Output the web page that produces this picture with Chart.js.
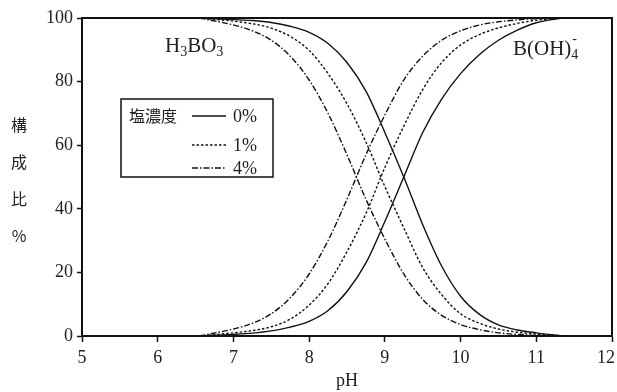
<!DOCTYPE html>
<html>
<head>
<meta charset="utf-8">
<script src="https://cdn.jsdelivr.net/npm/chart.js@4"></script>
<style>
  body { margin: 0; background: #fff; }
  #wrap { width: 617px; height: 392px; }
</style>
</head>
<body>
<div id="wrap"><canvas id="chart" width="617" height="392"></canvas></div>
<script>
let pH = [6.55, 7, 7.25, 7.5, 7.75, 8, 8.25, 8.5, 8.75, 9, 9.25, 9.5, 9.75, 10, 10.25, 10.5, 10.75, 11, 11.35];

// H3BO3 (falling) curves, %
let boric0 = [100, 99.5, 99.2, 98.6, 97.4, 95.5, 92, 86, 77, 64, 50, 35, 22, 12.5, 6.8, 3.5, 1.9, 1, 0];
let boric1 = [100, 99, 98.2, 96.8, 94.2, 89.8, 82.5, 73, 61, 47, 34, 21.5, 13, 7, 4, 2.2, 1.2, 0.6, 0];
let boric4 = [100, 97.8, 96, 93, 88, 80.5, 70, 57, 43, 30.5, 19.5, 11.5, 6.5, 3.6, 2, 1, 0.5, 0.2, 0];

// B(OH)4- (rising) curves, %
let borate0 = [0, 0.5, 0.9, 1.6, 2.8, 4.6, 8, 14, 23, 36, 50, 64, 74.5, 82.5, 88.5, 93, 96.2, 98.5, 100];
let borate1 = [0, 1, 1.7, 2.9, 5.3, 9.7, 16.5, 26.5, 38.5, 53, 66, 77.5, 86, 91.5, 94.8, 96.9, 98.3, 99.3, 100];
let borate4 = [0, 2.2, 4, 7, 12, 19.5, 30, 43, 57, 69.5, 80.5, 88, 93, 96, 97.8, 98.8, 99.4, 99.8, 100];

let xTicks = [5, 6, 7, 8, 9, 10, 11, 12];
let yTicks = [0, 20, 40, 60, 80, 100];
let saltLabels = ["0%", "1%", "4%"];
let yTitle = ["構", "成", "比", "%"];

let dashes = [[], [2.5, 2], [6, 2, 1.5, 2]];
let serif = "'Liberation Serif', 'DejaVu Serif', serif";
let cjk = "'Noto Sans CJK JP', 'Noto Sans CJK SC', sans-serif";

function toPoints(values) {
    return values.map((v, i) => ({x: pH[i], y: v}));
}

function makeSet(values, dash) {
    return {
        data: toPoints(values),
        borderColor: "#111",
        borderWidth: 1.4,
        borderDash: dash,
        pointRadius: 0,
        cubicInterpolationMode: "monotone",
        fill: false
    };
}

let datasets = [
    makeSet(boric0, dashes[0]),
    makeSet(boric1, dashes[1]),
    makeSet(boric4, dashes[2]),
    makeSet(borate0, dashes[0]),
    makeSet(borate1, dashes[1]),
    makeSet(borate4, dashes[2])
];

// frame, x labels, species names, legend box and stacked y title
let extras = {
    id: "extras",
    afterDraw(chart) {
        let ctx = chart.ctx;
        let a = chart.chartArea;
        ctx.save();
        ctx.strokeStyle = "#111";
        ctx.lineWidth = 2;
        ctx.strokeRect(a.left, a.top, a.right - a.left, a.bottom - a.top);

        ctx.fillStyle = "#222";
        // x tick labels, last one kept inside the canvas
        ctx.font = "18px " + serif;
        ctx.textBaseline = "middle";
        ctx.textAlign = "center";
        let xs = chart.scales.x;
        for (let v of xTicks) {
            let px = xs.getPixelForValue(v);
            let w = ctx.measureText(String(v)).width;
            if (px + w / 2 > chart.width - 2) px = chart.width - 2 - w / 2;
            ctx.fillText(String(v), px, a.bottom + 22);
        }

        ctx.textBaseline = "alphabetic";
        ctx.textAlign = "left";
        // H3BO3
        ctx.font = "21px " + serif;
        let x = 165;
        ctx.fillText("H", x, 52); x += ctx.measureText("H").width;
        ctx.font = "14px " + serif;
        ctx.fillText("3", x, 56); x += ctx.measureText("3").width;
        ctx.font = "21px " + serif;
        ctx.fillText("BO", x, 52); x += ctx.measureText("BO").width;
        ctx.font = "14px " + serif;
        ctx.fillText("3", x, 56);
        // B(OH)4-
        ctx.font = "21px " + serif;
        x = 513;
        ctx.fillText("B(OH)", x, 55); x += ctx.measureText("B(OH)").width;
        ctx.font = "14px " + serif;
        ctx.fillText("4", x, 59);
        ctx.fillText("-", x + 1, 43);

        // legend
        ctx.lineWidth = 1.5;
        ctx.setLineDash([]);
        ctx.strokeRect(121, 99, 152, 78);
        ctx.font = "16px " + cjk;
        ctx.textBaseline = "middle";
        ctx.fillText("塩濃度", 129, 116);
        let rows = [116, 145, 168];
        for (let i = 0; i < saltLabels.length; i++) {
            ctx.beginPath();
            ctx.lineWidth = 1.4;
            ctx.setLineDash(dashes[i]);
            ctx.moveTo(192, rows[i]);
            ctx.lineTo(226, rows[i]);
            ctx.stroke();
            ctx.setLineDash([]);
            ctx.font = "18px " + serif;
            ctx.fillText(saltLabels[i], 233, rows[i] + 1);
        }

        // y title, one char per line
        ctx.font = "16px " + cjk;
        ctx.textAlign = "center";
        let ys = [125, 162, 199, 236];
        for (let i = 0; i < yTitle.length; i++) {
            ctx.fillText(yTitle[i], 19, ys[i]);
        }
        ctx.restore();
    }
};

new Chart(document.getElementById("chart"), {
    type: "line",
    data: {datasets: datasets},
    options: {
        responsive: false,
        animation: false,
        layout: {padding: {top: 18, right: 5, left: 0, bottom: 0}},
        plugins: {legend: {display: false}, tooltip: {enabled: false}},
        scales: {
            x: {
                type: "linear",
                min: 5,
                max: 12,
                afterBuildTicks: (scale) => { scale.ticks = xTicks.map(v => ({value: v})); },
                afterFit: (scale) => {
                    scale.height = 56;
                    scale.paddingLeft = 0;
                    scale.paddingRight = 0;
                },
                border: {display: true, color: "#111", width: 2},
                grid: {drawOnChartArea: false, drawTicks: true, tickLength: 6, color: "#111", tickWidth: 1.5},
                ticks: {display: false},
                title: {display: true, text: "pH", color: "#222", font: {family: serif, size: 18}, padding: {top: 30, bottom: 0}}
            },
            y: {
                min: 0,
                max: 100,
                afterBuildTicks: (scale) => { scale.ticks = yTicks.map(v => ({value: v})); },
                afterFit: (scale) => { scale.width = 82; },
                border: {display: true, color: "#111", width: 2},
                grid: {drawOnChartArea: false, drawTicks: true, tickLength: 5, color: "#111", tickWidth: 1.5},
                ticks: {color: "#222", font: {family: serif, size: 18}, padding: 4}
            }
        }
    },
    plugins: [extras]
});
</script>
</body>
</html>
